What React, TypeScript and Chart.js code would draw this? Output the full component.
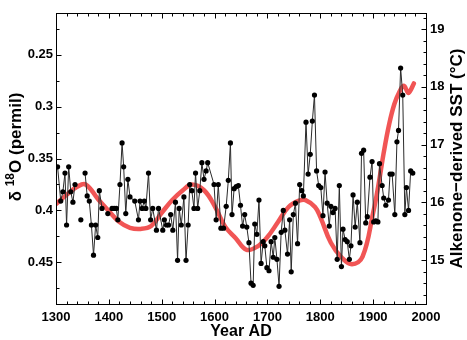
import { useEffect, useRef } from "react";
import { Chart, registerables } from "chart.js";

Chart.register(...registerables);

const FONT = '"Liberation Sans", Arial, Helvetica, sans-serif';

// δ18O record (years AD, permil); null = gap in the record
const years = [
  1303, 1309, 1313, 1317, 1320, 1324, 1328, 1332, 1336, 1341, 1347, 1351, 1355, 1359, 1363, 1367,
  1371, 1375, 1379, 1382, 1387, 1392, 1398, 1402, 1406, 1410, 1414, 1417, 1421, 1425, 1428, 1432,
  1436, 1440, 1449, 1456, 1459, 1463, 1467, 1470, 1475, 1479, 1483, 1490, 1494, 1502, 1505, 1509,
  1513, 1517, 1521, 1526, 1530, 1533, 1537, 1542, 1546, 1550, 1553, 1557, 1561, 1564, 1568, 1572,
  1576, 1580, 1584, 1587, 1599, 1603, 1607, 1612, 1617, 1622, 1626, 1630, 1633, 1637, 1641, 1645,
  1649, 1653, 1657, 1661, 1665, 1669, 1673, 1676, 1680, 1684, 1688, 1692, 1695, 1699, 1703, 1707,
  1711, 1714, 1718, 1722, 1726, 1730, 1733, 1738, 1742, 1745, 1749, 1753, 1757, 1761, 1765, 1768,
  1773, 1777, 1781, 1785, 1789, 1793, 1797, 1801, 1805, 1809, 1813, 1817, 1820, 1824, 1828, 1832,
  1836, 1840, 1843, 1847, 1851, 1855, 1858, 1862, 1866, 1870, 1875, 1878, 1882, 1886, 1889, 1894,
  1898, 1901, 1905, 1909, 1912, 1917, 1920, 1924, 1929, 1932, 1936, 1941, 1945, 1948, 1952, 1956,
  1960, 1963, 1967, 1971, 1975,
];
const d18O = [
  0.358, 0.391, 0.382, 0.364, 0.414, 0.358, 0.382, 0.392, 0.375, null, 0.409, null, 0.364, 0.386, 0.391, 0.414,
  0.443, 0.414, 0.426, 0.381, 0.398, null, 0.403, null, 0.398, 0.398, 0.398, 0.409, 0.375, 0.335, 0.358, 0.403,
  0.370, 0.387, 0.391, 0.409, 0.391, 0.398, 0.391, 0.398, 0.364, 0.409, 0.398, 0.419, 0.398, 0.419, 0.409, 0.414,
  0.414, 0.404, 0.419, 0.392, 0.448, 0.398, 0.414, 0.387, 0.448, 0.414, 0.375, 0.381, 0.398, 0.364, 0.398, 0.381,
  0.354, 0.370, 0.362, 0.354, 0.375, 0.409, 0.375, 0.417, 0.417, 0.396, 0.371, 0.335, 0.404, 0.379, 0.377, 0.376,
  0.395, 0.415, 0.404, 0.416, 0.431, 0.470, 0.472, 0.413, 0.423, 0.390, 0.451, 0.430, 0.434, 0.455, 0.458, 0.430,
  0.445, 0.426, 0.447, 0.473, 0.421, 0.400, 0.419, 0.442, 0.409, 0.459, 0.404, 0.393, 0.432, 0.375, 0.381, 0.386,
  0.315, 0.365, 0.346, 0.314, 0.289, 0.362, 0.376, 0.378, 0.405, 0.363, 0.393, 0.415, 0.396, 0.402, 0.398, 0.447,
  0.376, 0.454, 0.418, 0.428, 0.430, 0.447, 0.434, 0.385, 0.416, 0.392, 0.431, 0.345, 0.342, 0.412, 0.406, 0.368,
  0.353, 0.411, 0.410, 0.411, 0.355, 0.376, 0.388, 0.395, 0.390, 0.365, 0.365, 0.404, 0.334, 0.323, 0.263, 0.289,
  0.404, 0.378, 0.400, 0.362, 0.364,
];

// Alkenone-derived SST (°C)
const sstYears = [
  1300, 1320, 1340, 1356, 1380, 1400, 1420, 1440, 1460, 1480, 1500, 1520, 1540, 1557, 1580, 1600,
  1620, 1640, 1660, 1680, 1700, 1720, 1740, 1760, 1772, 1790, 1800, 1820, 1840, 1860, 1880, 1900,
  1910, 1920, 1930, 1940, 1950, 1958, 1966, 1970, 1977,
];
const sstValues = [
  15.97, 16.13, 16.27, 16.31, 16.05, 15.85, 15.66, 15.56, 15.54, 15.59, 15.82, 16.04, 16.21, 16.31, 16.21, 15.94,
  15.58, 15.38, 15.18, 15.23, 15.40, 15.66, 15.92, 16.03, 16.04, 15.92, 15.75, 15.30, 15.05, 14.93, 15.06, 15.82,
  16.30, 16.86, 17.34, 17.70, 17.92, 18.02, 17.90, 17.93, 18.06,
];

const xTickYears = [1300, 1400, 1500, 1600, 1700, 1800, 1900, 2000];
const d18OTicks = [0.25, 0.3, 0.35, 0.4, 0.45];
const sstTicks = [15, 16, 17, 18, 19];

export default function App() {
  const ref = useRef<HTMLCanvasElement>(null);

  useEffect(() => {
    document.body.style.margin = "0";
    const canvas = ref.current;
    if (!canvas) return;

    const framePlugin = {
      id: "frameAndTitles",
      afterDraw(chart: any) {
        const { ctx, chartArea: a, scales } = chart;
        const L = Math.round(a.left) + 0.5;
        const R = Math.round(a.right) + 0.5;
        const T = Math.round(a.top) + 0.5;
        const B = Math.round(a.bottom) + 0.5;
        ctx.save();
        ctx.strokeStyle = "#000";
        ctx.lineWidth = 1;
        ctx.strokeRect(L, T, R - L, B - T);
        ctx.beginPath();
        for (let v = 1300; v <= 2000; v += 20) {
          const px = Math.round(scales.x.getPixelForValue(v)) + 0.5;
          const len = v % 100 === 0 ? 5 : 3;
          ctx.moveTo(px, B);
          ctx.lineTo(px, B - len);
          ctx.moveTo(px, T);
          ctx.lineTo(px, T + len);
        }
        for (let k = 9; k <= 19; k++) {
          const py = Math.round(scales.y.getPixelForValue(k * 0.025)) + 0.5;
          const len = k % 2 === 0 ? 5 : 3;
          ctx.moveTo(L, py);
          ctx.lineTo(L + len, py);
        }
        for (let k = 72; k <= 96; k++) {
          const py = Math.round(scales.y1.getPixelForValue(k * 0.2)) + 0.5;
          const len = k % 5 === 0 ? 5 : 3;
          ctx.moveTo(R, py);
          ctx.lineTo(R - len, py);
        }
        ctx.stroke();

        ctx.fillStyle = "#000";
        // x title
        ctx.font = `bold 16px ${FONT}`;
        ctx.textAlign = "center";
        ctx.textBaseline = "middle";
        ctx.fillText("Year AD", (a.left + a.right) / 2, 332);

        // left title with superscript
        ctx.save();
        ctx.translate(15, 147);
        ctx.rotate(-Math.PI / 2);
        ctx.textAlign = "left";
        ctx.textBaseline = "alphabetic";
        const big = `bold 17px ${FONT}`;
        const small = `bold 12px ${FONT}`;
        ctx.font = big;
        const w1 = ctx.measureText("\u03b4 ").width;
        const w3 = ctx.measureText("O (permil)").width;
        ctx.font = small;
        const w2 = ctx.measureText("18").width;
        let xx = -(w1 + w2 + w3) / 2;
        ctx.font = big;
        ctx.fillText("\u03b4 ", xx, 6);
        xx += w1;
        ctx.font = small;
        ctx.fillText("18", xx, -1.5);
        xx += w2;
        ctx.font = big;
        ctx.fillText("O (permil)", xx, 6);
        ctx.restore();

        // right title
        ctx.save();
        ctx.translate(457, (a.top + a.bottom) / 2);
        ctx.rotate(-Math.PI / 2);
        ctx.font = `bold 17px ${FONT}`;
        ctx.textAlign = "center";
        ctx.textBaseline = "middle";
        ctx.fillText("Alkenone\u2212derived SST (\u00b0C)", 0, 0);
        ctx.restore();

        ctx.restore();
      },
    };

    const tickFont = { family: FONT, size: 13, weight: "bold" as const };

    const chart = new Chart(canvas, {
      type: "line",
      data: {
        datasets: [
          {
            label: "d18O",
            data: years.map((x, i) => ({ x, y: d18O[i] })),
            yAxisID: "y",
            borderColor: "#2a2a2a",
            borderWidth: 1,
            pointRadius: 2.6,
            pointBackgroundColor: "#000",
            pointBorderWidth: 0,
            tension: 0,
            spanGaps: false,
            order: 0,
          },
          {
            label: "SST",
            data: sstYears.map((x, i) => ({ x, y: sstValues[i] })),
            yAxisID: "y1",
            borderColor: "rgba(240,66,66,0.9)",
            borderWidth: 4.5,
            borderCapStyle: "round",
            borderJoinStyle: "round",
            pointRadius: 0,
            tension: 0.4,
            order: 1,
          },
        ],
      } as any,
      options: {
        responsive: false,
        animation: false,
        devicePixelRatio: 1,
        layout: { padding: { top: 13, left: 0, right: 0, bottom: 0 } },
        plugins: {
          legend: { display: false },
          tooltip: { enabled: false },
        },
        scales: {
          x: {
            type: "linear",
            position: "bottom",
            min: 1300,
            max: 2000,
            grid: { display: false, drawTicks: false },
            border: { display: false },
            afterBuildTicks: (s: any) => {
              s.ticks = xTickYears.map((v) => ({ value: v }));
            },
            afterFit: (s: any) => {
              s.height = 36;
            },
            ticks: {
              font: tickFont,
              color: "#000",
              padding: 6,
              autoSkip: false,
              maxRotation: 0,
              callback: (v: any) => String(v),
            },
          },
          y: {
            type: "linear",
            position: "left",
            min: 0.21,
            max: 0.49,
            reverse: true,
            grid: { display: false, drawTicks: false },
            border: { display: false },
            afterBuildTicks: (s: any) => {
              s.ticks = d18OTicks.map((v) => ({ value: v }));
            },
            afterFit: (s: any) => {
              s.width = 56;
            },
            ticks: {
              font: tickFont,
              color: "#000",
              padding: 3,
              autoSkip: false,
              callback: (v: any) => String(v),
            },
          },
          y1: {
            type: "linear",
            position: "right",
            min: 14.24,
            max: 19.28,
            grid: { display: false, drawTicks: false },
            border: { display: false },
            afterBuildTicks: (s: any) => {
              s.ticks = sstTicks.map((v) => ({ value: v }));
            },
            afterFit: (s: any) => {
              s.width = 41;
            },
            ticks: {
              font: tickFont,
              color: "#000",
              padding: 4,
              autoSkip: false,
              callback: (v: any) => String(v),
            },
          },
        },
      } as any,
      plugins: [framePlugin],
    });

    return () => chart.destroy();
  }, []);

  return (
    <div style={{ width: 467, height: 340, background: "#fff" }}>
      <canvas ref={ref} width={467} height={340} style={{ display: "block" }} />
    </div>
  );
}
